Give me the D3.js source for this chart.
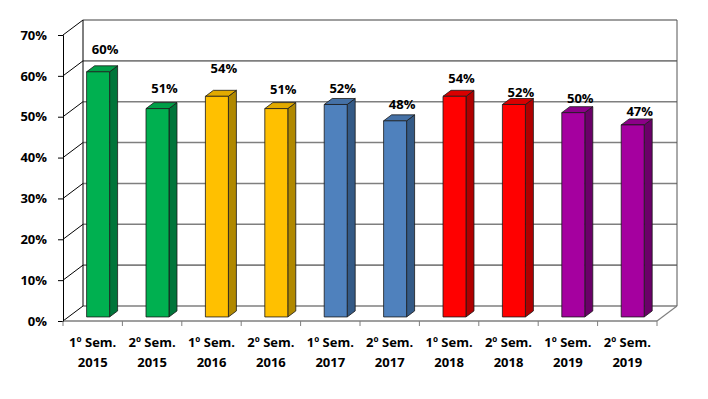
<!DOCTYPE html>
<html>
<head>
<meta charset="utf-8">
<script src="https://cdn.jsdelivr.net/npm/d3@7"></script>
<style>
  html, body { margin: 0; padding: 0; background: #fff; }
  svg { display: block; }
  text { font-family: "Open Sans", sans-serif; font-weight: bold; fill: #000; }
</style>
</head>
<body>
<svg id="chart" width="708" height="399"></svg>
<script>
// ---- data ----
const semesters = ["1º Sem.", "2º Sem.", "1º Sem.", "2º Sem.", "1º Sem.", "2º Sem.", "1º Sem.", "2º Sem.", "1º Sem.", "2º Sem."];
const years = ["2015", "2015", "2016", "2016", "2017", "2017", "2018", "2018", "2019", "2019"];
const values = [0.60, 0.51, 0.54, 0.51, 0.52, 0.48, 0.54, 0.52, 0.50, 0.47];
const yTicks = [0, 0.1, 0.2, 0.3, 0.4, 0.5, 0.6, 0.7];

// ---- styles / layout ----
const palette = [
  {face: "#00B050", side: "#00753A", top: "#009F48"},
  {face: "#FFC000", side: "#B08800", top: "#E2AA00"},
  {face: "#4F81BD", side: "#345A86", top: "#4571A6"},
  {face: "#FF0000", side: "#B00000", top: "#D80000"},
  {face: "#A5009F", side: "#6A0068", top: "#8C0088"}
];
const labelNudge = [-23, -21, -28, -20, -16, -17, -18, -12, -15, -14];
const FS = 13;

const svg = d3.select("#chart");
const cats = d3.range(values.length);
const depthX = 20, depthY = -15;
const z0 = 0.27, z1 = 0.67;

const x = d3.scaleBand().domain(cats).range([63, 657]).paddingInner(0.613).paddingOuter(0.3065);
const y = d3.scaleLinear().domain([0, 0.7]).range([321, 35]);
const P = (px, py, z) => [px + z * depthX, py + z * depthY];
const pts = arr => arr.map(p => p.join(",")).join(" ");

// back wall gridlines
const xL = 63, xR = 657;
svg.append("g").selectAll("line").data(yTicks).join("line")
  .attr("x1", d => P(xL, y(d), 1)[0]).attr("y1", d => P(xL, y(d), 1)[1])
  .attr("x2", d => P(xR, y(d), 1)[0]).attr("y2", d => P(xR, y(d), 1)[1])
  .attr("stroke", "#7f7f7f").attr("stroke-width", 1.6);

// side wall diagonals
svg.append("g").selectAll("line").data(yTicks).join("line")
  .attr("x1", xL).attr("y1", d => y(d))
  .attr("x2", d => P(xL, y(d), 1)[0]).attr("y2", d => P(xL, y(d), 1)[1])
  .attr("stroke", "#000").attr("stroke-width", 1);

// back wall left & right edges
svg.append("line").attr("x1", P(xL, y(0), 1)[0]).attr("y1", P(xL, y(0), 1)[1])
  .attr("x2", P(xL, y(0.7), 1)[0]).attr("y2", P(xL, y(0.7), 1)[1]).attr("stroke", "#000");
svg.append("line").attr("x1", P(xR, y(0), 1)[0]).attr("y1", P(xR, y(0), 1)[1])
  .attr("x2", P(xR, y(0.7), 1)[0]).attr("y2", P(xR, y(0.7), 1)[1]).attr("stroke", "#555");

// floor front and right edges
svg.append("line").attr("x1", xL).attr("y1", y(0)).attr("x2", xR).attr("y2", y(0))
  .attr("stroke", "#7f7f7f").attr("stroke-width", 1.4);
svg.append("line").attr("x1", xR).attr("y1", y(0))
  .attr("x2", P(xR, y(0), 1)[0]).attr("y2", P(xR, y(0), 1)[1])
  .attr("stroke", "#7f7f7f").attr("stroke-width", 1.2);

// y axis
const yAxisG = svg.append("g").attr("transform", `translate(${xL},0)`)
  .call(d3.axisLeft(y).tickValues(yTicks).tickFormat(d3.format(".0%")).tickSizeOuter(0).tickSize(5).tickPadding(11));
yAxisG.select(".domain").attr("stroke", "#000");
yAxisG.selectAll("text").attr("font-size", FS).attr("font-family", "'Open Sans', sans-serif").attr("font-weight", "bold");

// x axis ticks at category boundaries
const step = x.step();
const bounds = d3.range(values.length + 1).map(i => x(0) - step * x.paddingInner() / 2 + i * step);
svg.append("g").selectAll("line").data(bounds).join("line")
  .attr("x1", d => d).attr("x2", d => d).attr("y1", y(0)).attr("y2", y(0) + 5)
  .attr("stroke", "#7f7f7f");

const xl = svg.append("g").selectAll("text").data(cats).join("text")
  .attr("text-anchor", "middle").attr("font-size", FS)
  .attr("x", i => x(i) + x.bandwidth() / 2);
xl.append("tspan").attr("x", i => x(i) + x.bandwidth() / 2).attr("y", 347).text(i => semesters[i]);
xl.append("tspan").attr("x", i => x(i) + x.bandwidth() / 2).attr("y", 367).text(i => years[i]);

// bars
const bw = x.bandwidth();
const bars = svg.append("g").selectAll("g").data(cats).join("g");
bars.each(function(i) {
  const g = d3.select(this);
  const c = palette[Math.floor(i / 2)];
  const x0 = x(i), x1 = x0 + bw;
  const yb = y(0), yt = y(values[i]);
  const f = [P(x0, yb, z0), P(x1, yb, z0), P(x1, yt, z0), P(x0, yt, z0)];
  const s = [P(x1, yb, z0), P(x1, yb, z1), P(x1, yt, z1), P(x1, yt, z0)];
  const t = [P(x0, yt, z0), P(x1, yt, z0), P(x1, yt, z1), P(x0, yt, z1)];
  g.append("polygon").attr("points", pts(s)).attr("fill", c.side).attr("stroke", "#1a1a1a").attr("stroke-width", 0.8).attr("stroke-linejoin", "round");
  g.append("polygon").attr("points", pts(t)).attr("fill", c.top).attr("stroke", "#1a1a1a").attr("stroke-width", 0.8).attr("stroke-linejoin", "round");
  g.append("polygon").attr("points", pts(f)).attr("fill", c.face).attr("stroke", "#1a1a1a").attr("stroke-width", 0.8).attr("stroke-linejoin", "round");
  const ft = P(x0 + bw / 2, yt, z0);
  g.append("text").attr("text-anchor", "middle").attr("font-size", FS)
    .attr("x", ft[0] + 7).attr("y", ft[1] + labelNudge[i] + 5)
    .text(d3.format(".0%")(values[i]));
});
</script>
</body>
</html>
